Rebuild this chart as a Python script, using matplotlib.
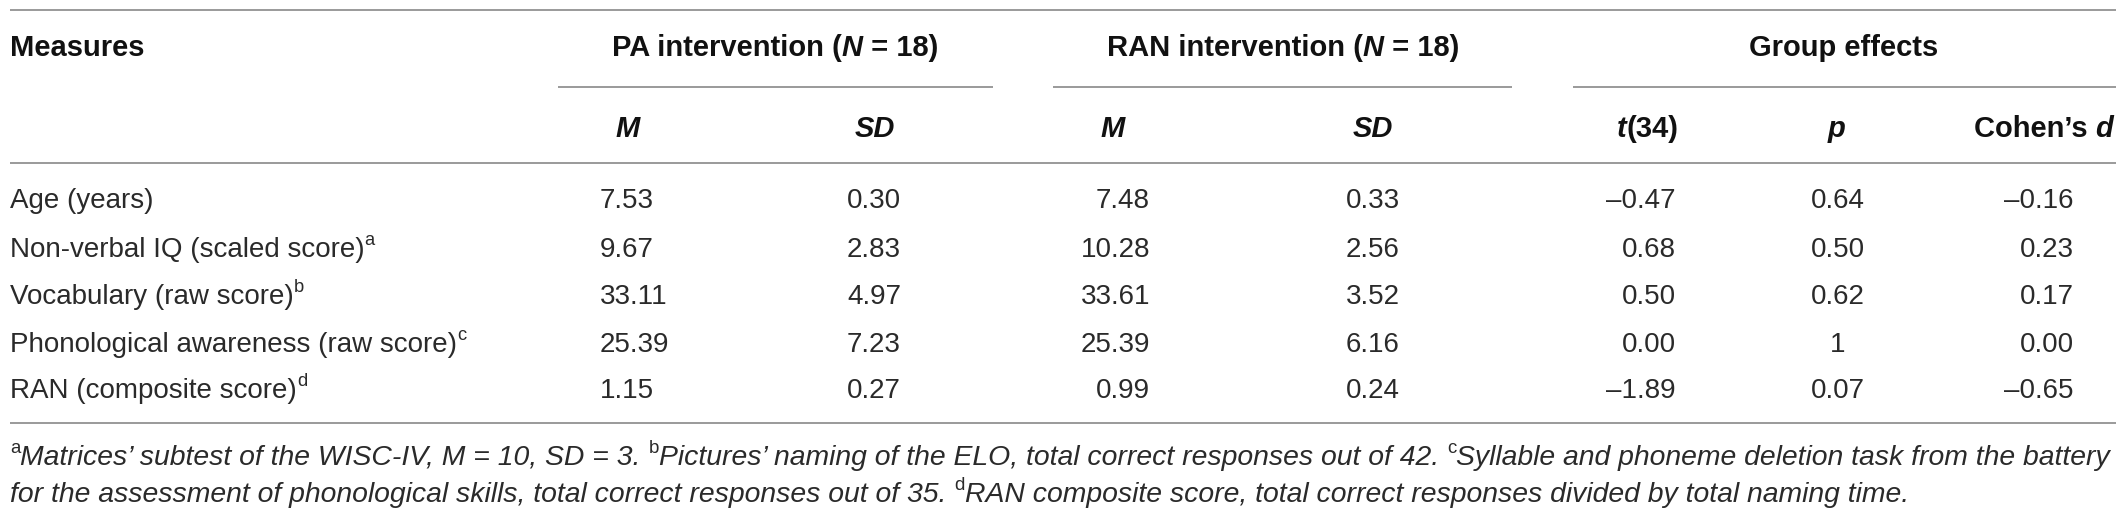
import matplotlib
matplotlib.use('Agg')
import matplotlib.pyplot as plt

#----------------  Table contents  --------------------

measures = ['Age (years)',
            'Non-verbal IQ (scaled score)',
            'Vocabulary (raw score)',
            'Phonological awareness (raw score)',
            'RAN (composite score)']
measure_notes = ['', 'a', 'b', 'c', 'd']

pa_m   = ['7.53', '9.67', '33.11', '25.39', '1.15']
pa_sd  = ['0.30', '2.83', '4.97', '7.23', '0.27']
ran_m  = ['7.48', '10.28', '33.61', '25.39', '0.99']
ran_sd = ['0.33', '2.56', '3.52', '6.16', '0.24']
t_vals = ['\u20130.47', '0.68', '0.50', '0.00', '\u20131.89']
p_vals = ['0.64', '0.50', '0.62', '1', '0.07']
d_vals = ['\u20130.16', '0.23', '0.17', '0.00', '\u20130.65']

footnote_1 = [('a', 'sup'), ('Matrices\u2019 subtest of the WISC-IV, M = 10, SD = 3. ', ''),
              ('b', 'sup'), ('Pictures\u2019 naming of the ELO, total correct responses out of 42. ', ''),
              ('c', 'sup'), ('Syllable and phoneme deletion task from the battery', '')]
footnote_2 = [('for the assessment of phonological skills, total correct responses out of 35. ', ''),
              ('d', 'sup'), ('RAN composite score, total correct responses divided by total naming time.', '')]

#----------------  Layout  --------------------

W, H = 2128, 521
FONT = 'Liberation Sans'
BODY = 20
HEADSZ = 21
FOOT = 20.4
TXT = '#2a2a2a'
HEAD = '#111111'
RULE = '#9a9a9a'

fig = plt.figure(figsize=(W / 100, H / 100), dpi=100)
ax = fig.add_axes([0, 0, 1, 1])
ax.set_xlim(0, W)
ax.set_ylim(H, 0)
ax.axis('off')
renderer = fig.canvas.get_renderer()


def text_width(s, size, weight, style):
    # measure with bars on both sides so spaces count
    a = ax.text(0, 0, '|' + s + '|', fontsize=size, fontweight=weight, fontstyle=style, family=FONT)
    b = ax.text(0, 0, '||', fontsize=size, fontweight=weight, fontstyle=style, family=FONT)
    w = a.get_window_extent(renderer).width - b.get_window_extent(renderer).width
    a.remove()
    b.remove()
    return w


def draw_runs(x, y, runs, ha='left', size=BODY, color=TXT, weight='normal', style='normal'):
    # runs: list of (text, flags); flags may hold 'b' bold, 'i' italic, 'sup'
    parts = []
    for s, flags in runs:
        wt = 'bold' if 'b' in flags else weight
        st = 'italic' if 'i' in flags else style
        if 'sup' in flags:
            fs = size * 0.66
            st = 'normal'
        else:
            fs = size
        parts.append((s, fs, wt, st, 'sup' in flags, text_width(s, fs, wt, st)))
    total = sum(p[-1] for p in parts)
    if ha == 'right':
        cur = x - total
    elif ha == 'center':
        cur = x - total / 2
    else:
        cur = x
    for s, fs, wt, st, sup, w in parts:
        yy = y - size * 100 / 72 * 0.42 if sup else y
        ax.text(cur, yy, s, fontsize=fs, fontweight=wt, fontstyle=st, family=FONT,
                color=color, va='baseline', ha='left')
        cur += w


# horizontal rules
for yr in [10, 163, 423]:
    ax.plot([10, 2116], [yr, yr], color=RULE, lw=1.4, solid_capstyle='butt')
for x0, x1 in [(558, 993), (1053, 1512), (1573, 2116)]:
    ax.plot([x0, x1], [87, 87], color=RULE, lw=1.4, solid_capstyle='butt')

# header row 1
draw_runs(10, 56, [('Measures', 'b')], size=HEADSZ, color=HEAD)
draw_runs(775, 56, [('PA intervention (', 'b'), ('N', 'bi'), (' = 18)', 'b')], ha='center', size=HEADSZ, color=HEAD)
draw_runs(1283, 56, [('RAN intervention (', 'b'), ('N', 'bi'), (' = 18)', 'b')], ha='center', size=HEADSZ, color=HEAD)
draw_runs(1844, 56, [('Group effects', 'b')], ha='center', size=HEADSZ, color=HEAD)

# header row 2
draw_runs(628, 137, [('M', 'bi')], ha='center', size=HEADSZ, color=HEAD)
draw_runs(875, 137, [('SD', 'bi')], ha='center', size=HEADSZ, color=HEAD)
draw_runs(1113, 137, [('M', 'bi')], ha='center', size=HEADSZ, color=HEAD)
draw_runs(1373, 137, [('SD', 'bi')], ha='center', size=HEADSZ, color=HEAD)
draw_runs(1648, 137, [('t', 'bi'), ('(34)', 'b')], ha='center', size=HEADSZ, color=HEAD)
draw_runs(1837, 137, [('p', 'bi')], ha='center', size=HEADSZ, color=HEAD)
draw_runs(2113, 137, [('Cohen\u2019s ', 'b'), ('d', 'bi')], ha='right', size=HEADSZ, color=HEAD)

# body rows
row_y = [208, 257, 304, 352, 398]
for i, yb in enumerate(row_y):
    runs = [(measures[i], '')]
    if measure_notes[i]:
        runs.append((measure_notes[i], 'sup'))
    draw_runs(10, yb, runs)
    draw_runs(600, yb, [(pa_m[i], '')])
    draw_runs(847, yb, [(pa_sd[i], '')])
    draw_runs(1150, yb, [(ran_m[i], '')], ha='right')
    draw_runs(1346, yb, [(ran_sd[i], '')])
    draw_runs(1676, yb, [(t_vals[i], '')], ha='right')
    draw_runs(1838, yb, [(p_vals[i], '')], ha='center')
    draw_runs(2074, yb, [(d_vals[i], '')], ha='right')

# footnotes
draw_runs(10, 465, footnote_1, size=FOOT, style='italic')
draw_runs(10, 502, footnote_2, size=FOOT, style='italic')

fig.savefig('out.png', dpi=100, facecolor='white')
